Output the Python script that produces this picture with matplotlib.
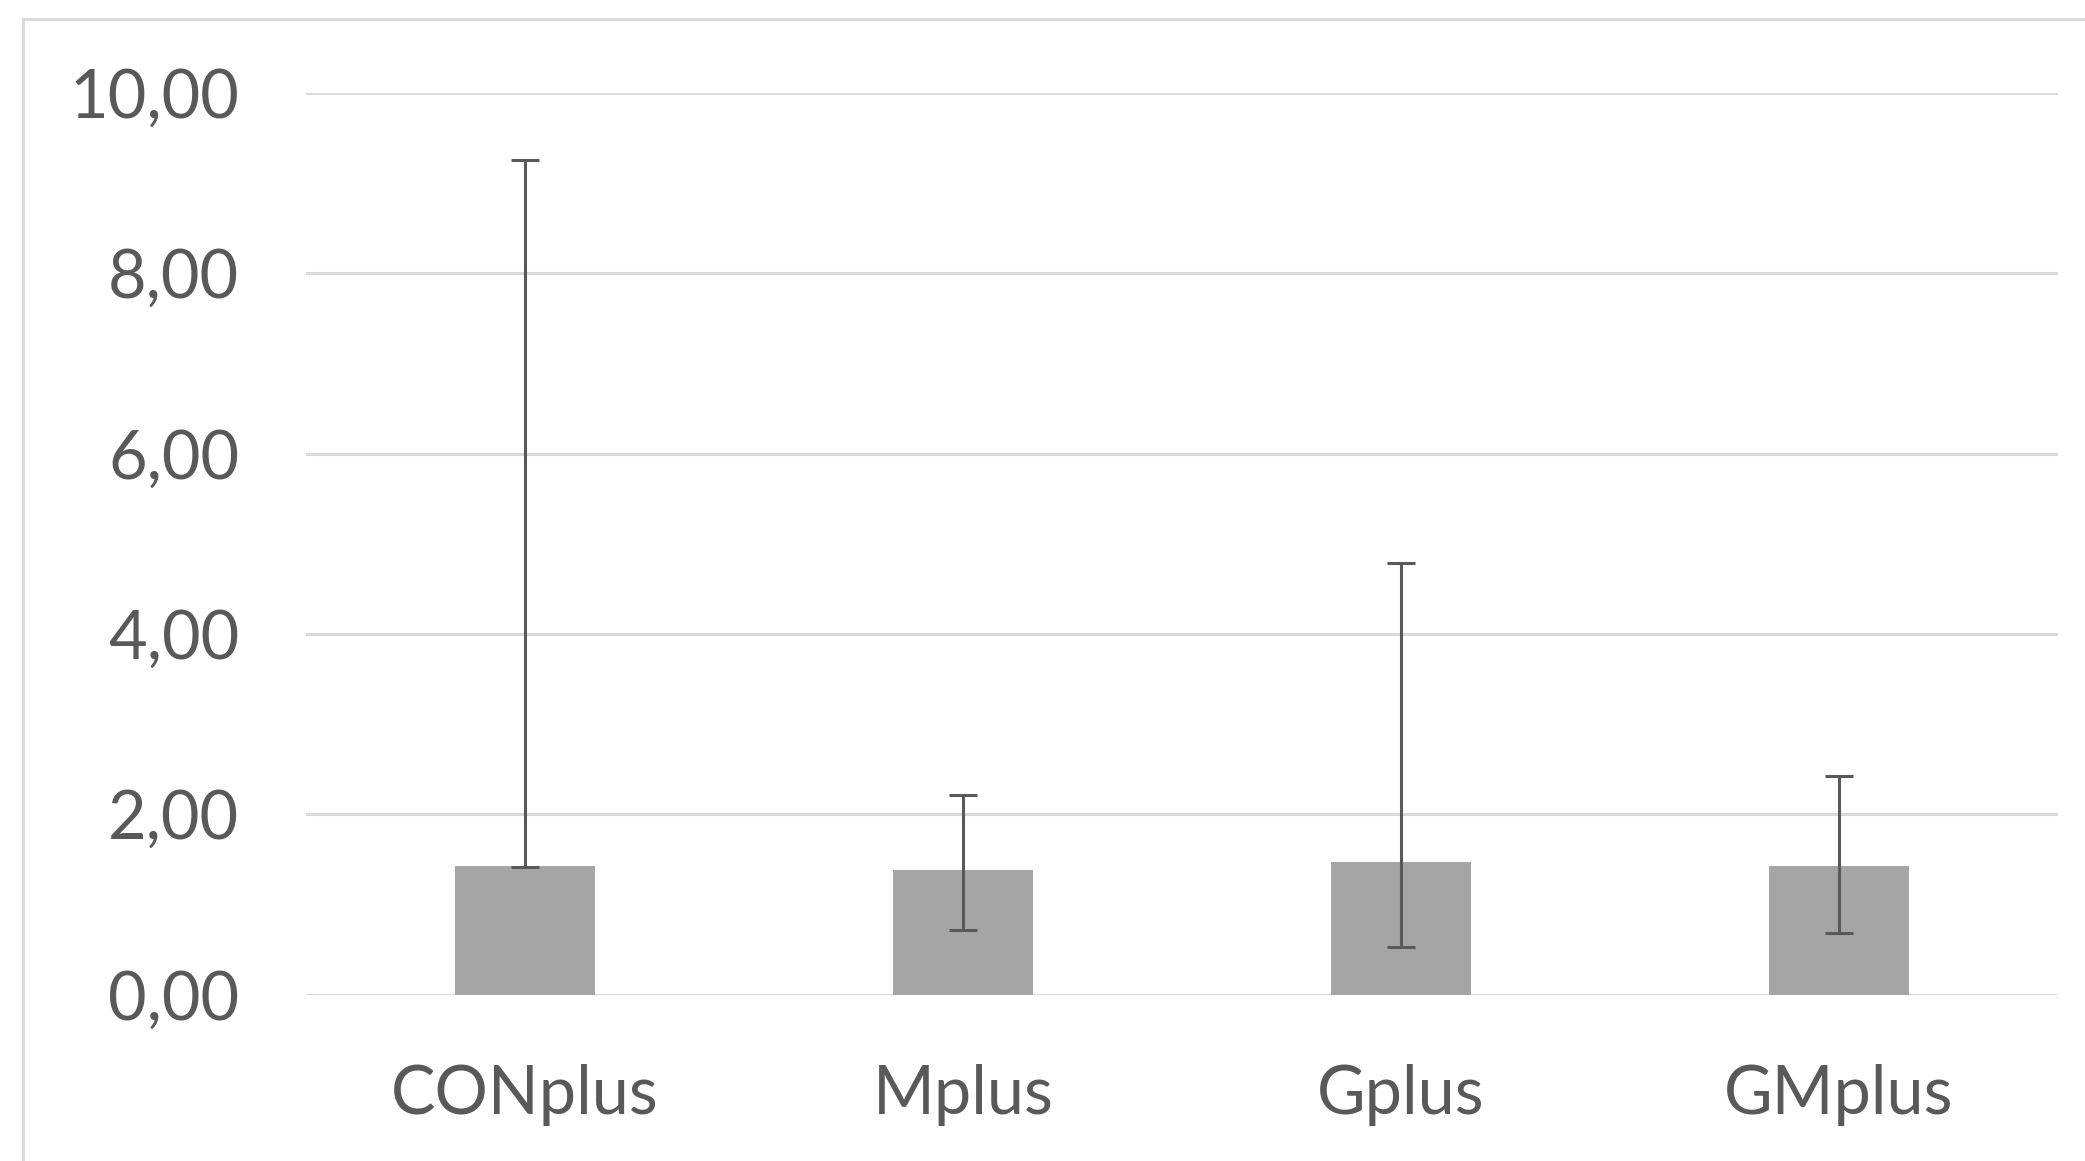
import matplotlib.pyplot as plt
from matplotlib.lines import Line2D

# Values
categories = ['CONplus', 'Mplus', 'Gplus', 'GMplus']
means = [1.43, 1.38, 1.47, 1.43]
upper = [9.26, 2.21, 4.79, 2.43]
lower = [1.42, 0.72, 0.53, 0.68]
yticks = [0, 2, 4, 6, 8, 10]
ytick_labels = ['0,00', '2,00', '4,00', '6,00', '8,00', '10,00']

text_color = '#595959'
bar_color = '#A5A5A5'
grid_color = '#D9D9D9'

fig = plt.figure(figsize=(20.85, 11.61), dpi=100)
ax = fig.add_axes([0.1467, 0.1433, 0.8403, 0.7767])

x = list(range(len(categories)))
err_low = [m - lo for m, lo in zip(means, lower)]
err_up = [u - m for m, u in zip(means, upper)]

ax.bar(x, means, width=0.32, color=bar_color, zorder=2)
ax.errorbar(x, means, yerr=[err_low, err_up], fmt='none', ecolor='#595959',
            elinewidth=2.2, capsize=10, capthick=2.2, zorder=3, clip_on=False)

ax.set_xlim(-0.5, 3.5)
ax.set_ylim(0, 10)
ax.set_yticks(yticks)
ax.set_yticklabels(ytick_labels)
ax.set_xticks(x)
ax.set_xticklabels(categories)

ax.yaxis.grid(True, color=grid_color, linewidth=2.2, zorder=0)
ax.set_axisbelow(True)
for side in ['top', 'right', 'left', 'bottom']:
    ax.spines[side].set_visible(False)
ax.tick_params(axis='both', length=0, labelsize=48, colors=text_color)
ax.tick_params(axis='y', pad=48)
ax.tick_params(axis='x', pad=50)
for lab in ax.get_xticklabels() + ax.get_yticklabels():
    lab.set_fontfamily('Lato')

# light frame on the left and top of the figure
fig.add_artist(Line2D([0.011, 0.011], [0.0, 0.984], color='#D9D9D9', linewidth=2, transform=fig.transFigure))
fig.add_artist(Line2D([0.011, 1.0], [0.984, 0.984], color='#D9D9D9', linewidth=2, transform=fig.transFigure))

fig.savefig('out.png', dpi=100, facecolor='white')
